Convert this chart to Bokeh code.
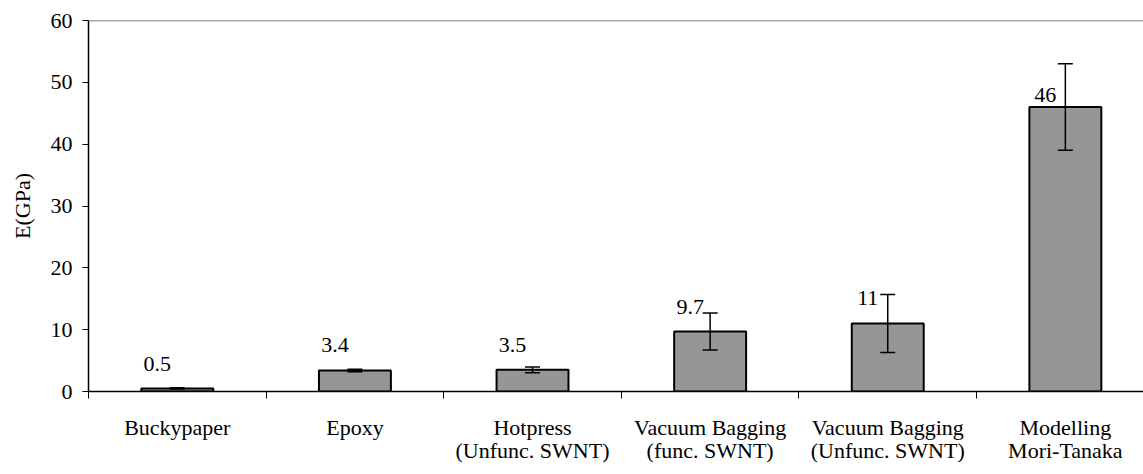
from bokeh.plotting import figure
from bokeh.models import (Range1d, FixedTicker, Whisker, TeeHead, ColumnDataSource,
                          LabelSet, Span)
from bokeh.embed import file_html
from bokeh.resources import INLINE

# ---- data ----
categories = ["Buckypaper", "Epoxy", "Hotpress\n(Unfunc. SWNT)",
              "Vacuum Bagging\n(func. SWNT)", "Vacuum Bagging\n(Unfunc. SWNT)",
              "Modelling\nMori-Tanaka"]
values = [0.5, 3.4, 3.5, 9.7, 11, 46]
errors = [0.1, 0.2, 0.45, 3.0, 4.7, 7.0]
y_ticks = [0, 10, 20, 30, 40, 50, 60]
y_max = 60

# ---- styles ----
FONT = "'Liberation Serif', 'Times New Roman', serif"
label_dy = [17, 18, 18, 18, 18, 5]

centers = [i + 0.5 for i in range(len(categories))]
boundaries = list(range(len(categories) + 1))

src = ColumnDataSource(dict(
    x=centers,
    top=values,
    upper=[v + e for v, e in zip(values, errors)],
    lower=[v - e for v, e in zip(values, errors)],
    label=[f"{v:g}" for v in values],
    dy=label_dy,
))

p = figure(width=1143, height=466,
           x_range=Range1d(0, 5.94), y_range=Range1d(0, y_max),
           output_backend="svg", toolbar_location=None,
           min_border_left=88, min_border_top=20, min_border_right=0,
           min_border_bottom=74)

p.xgrid.visible = False
p.ygrid.visible = False
p.outline_line_color = None
p.background_fill_color = "white"
p.border_fill_color = "white"

p.vbar(x="x", top="top", width=0.405, source=src,
       fill_color="#969696", line_color="black", line_width=2)

wh = Whisker(source=src, base="x", upper="upper", lower="lower",
             line_color="black", line_width=1.5, level="overlay",
             upper_head=TeeHead(size=15, line_color="black", line_width=1.5),
             lower_head=TeeHead(size=15, line_color="black", line_width=1.5))
p.add_layout(wh)

labels = LabelSet(x="x", y="top", text="label", source=src,
                  x_offset=-20, y_offset="dy",
                  text_align="center", text_baseline="alphabetic",
                  text_font=FONT, text_font_size="22px", text_color="black")
p.add_layout(labels)

p.add_layout(Span(location=y_max, dimension="width",
                  line_color="#555555", line_width=1.5))

# x axis: labels at category centres, ticks at category boundaries
xa = p.xaxis[0]
xa.ticker = FixedTicker(ticks=centers, minor_ticks=boundaries)
xa.major_label_overrides = {c: n for c, n in zip(centers, categories)}
xa.major_tick_out = 0
xa.major_tick_in = 0
xa.major_tick_line_color = None
xa.minor_tick_out = 7
xa.minor_tick_in = 0
xa.minor_tick_line_color = "black"
xa.minor_tick_line_width = 1
xa.axis_line_color = "black"
xa.axis_line_width = 1.5
xa.major_label_standoff = 16
xa.major_label_text_font = FONT
xa.major_label_text_font_size = "22px"
xa.major_label_text_color = "black"
xa.major_label_text_line_height = 0.95

ya = p.yaxis[0]
ya.ticker = FixedTicker(ticks=y_ticks)
ya.minor_tick_line_color = None
ya.major_tick_out = 6
ya.major_tick_in = 0
ya.major_tick_line_color = "black"
ya.axis_line_color = "black"
ya.axis_line_width = 1.5
ya.major_label_standoff = 10
ya.major_label_text_font = FONT
ya.major_label_text_font_size = "22px"
ya.major_label_text_color = "black"
ya.axis_label = "E(GPa)"
ya.axis_label_text_font = FONT
ya.axis_label_text_font_style = "normal"
ya.axis_label_text_font_size = "22px"
ya.axis_label_text_color = "black"
ya.axis_label_standoff = 13

open("out.html", "w").write(file_html(p, INLINE))
